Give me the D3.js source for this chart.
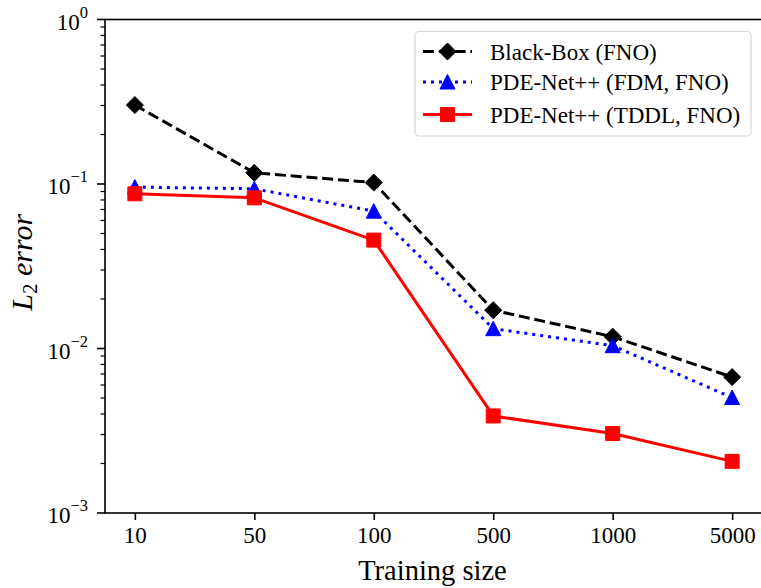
<!DOCTYPE html>
<html>
<head>
<meta charset="utf-8">
<script src="https://cdn.jsdelivr.net/npm/d3@7"></script>
<style>
  html, body { margin: 0; padding: 0; background: #fff; }
  text { font-family: "Liberation Serif", "Times New Roman", Tinos, "DejaVu Serif", serif; }
</style>
</head>
<body>
<svg id="chart" width="761" height="588"></svg>
<script>
// Training-set sizes (categorical x positions)
const trainingSizes = ["10", "50", "100", "500", "1000", "5000"];

// L2 error per training size
const blackBoxFNO = [0.302, 0.117, 0.102, 0.0171, 0.0118, 0.0067];
const pdeNetFDM   = [0.0958, 0.0935, 0.0684, 0.0132, 0.0104, 0.00503];
const pdeNetTDDL  = [0.0872, 0.0824, 0.0456, 0.00389, 0.00304, 0.00206];

const seriesNames = ["Black-Box (FNO)", "PDE-Net++ (FDM, FNO)", "PDE-Net++ (TDDL, FNO)"];

// Major decades on the log axis
const yMajorTicks = [1e-3, 1e-2, 1e-1, 1e0];
const yMajorExponents = ["−3", "−2", "−1", "0"];

const svg = d3.select("#chart");
const plotLeft = 105, plotRight = 762, plotTop = 19.5, plotBottom = 513;

const x = d3.scalePoint().domain(trainingSizes).range([plotLeft, plotRight]).padding(0.25);
const y = d3.scaleLog().domain([1e-3, 1]).range([plotBottom, plotTop]);

const series = [
  { name: seriesNames[0], values: blackBoxFNO, color: "#000000", dash: "11,4.8", marker: "diamond" },
  { name: seriesNames[1], values: pdeNetFDM,   color: "#0000ff", dash: "3,5",    marker: "triangle" },
  { name: seriesNames[2], values: pdeNetTDDL,  color: "#ff0000", dash: null,     marker: "square" }
];

// Marker shapes, centred on (0,0)
function markerPath(kind) {
  if (kind === "diamond") return "M0,-8.5L8.5,0L0,8.5L-8.5,0Z";
  if (kind === "triangle") return "M0,-7.5L7.5,7L-7.5,7Z";
  return "M-7,-7L7,-7L7,7L-7,7Z";
}

// Lines
const line = d3.line().x((d, i) => x(trainingSizes[i])).y(d => y(d));
series.forEach(s => {
  svg.append("path")
    .attr("d", line(s.values))
    .attr("fill", "none")
    .attr("stroke", s.color)
    .attr("stroke-width", 3)
    .attr("stroke-dasharray", s.dash)
    .attr("stroke-linejoin", "round");
});
// Markers on top
series.forEach(s => {
  svg.append("g").selectAll("path")
    .data(s.values)
    .join("path")
    .attr("transform", (d, i) => `translate(${x(trainingSizes[i])},${y(d)})`)
    .attr("d", markerPath(s.marker))
    .attr("fill", s.color)
    .attr("stroke", s.color)
    .attr("stroke-width", 1);
});

// Frame
svg.append("rect")
  .attr("x", plotLeft).attr("y", plotTop)
  .attr("width", plotRight - plotLeft).attr("height", plotBottom - plotTop)
  .attr("fill", "none").attr("stroke", "#000").attr("stroke-width", 1.6);

// X axis
const xAxis = d3.axisBottom(x).tickSize(7).tickPadding(7);
const gx = svg.append("g").attr("transform", `translate(0,${plotBottom})`).call(xAxis)
  .attr("font-size", 23);
gx.select(".domain").remove();
gx.selectAll(".tick line").attr("stroke", "#000").attr("stroke-width", 1.6);
gx.selectAll(".tick text").attr("fill", "#000");

// Y axis minor ticks
const minorTicks = [];
for (let e = -3; e < 0; e++) for (let m = 2; m <= 9; m++) minorTicks.push(m * Math.pow(10, e));
svg.append("g").selectAll("line")
  .data(minorTicks).join("line")
  .attr("x1", plotLeft - 4.5).attr("x2", plotLeft)
  .attr("y1", d => y(d)).attr("y2", d => y(d))
  .attr("stroke", "#000").attr("stroke-width", 1.2);

// Y axis major ticks
svg.append("g").selectAll("line")
  .data(yMajorTicks).join("line")
  .attr("x1", plotLeft - 8).attr("x2", plotLeft)
  .attr("y1", d => y(d)).attr("y2", d => y(d))
  .attr("stroke", "#000").attr("stroke-width", 1.6);

// Y tick labels as 10^n
const yl = svg.append("g").selectAll("text")
  .data(yMajorTicks).join("text")
  .attr("x", plotLeft - 17)
  .attr("y", d => y(d) + 10)
  .attr("text-anchor", "end")
  .attr("fill", "#000")
  .attr("font-size", 23);
yl.append("tspan").text("10");
yl.append("tspan")
  .attr("dy", -12)
  .attr("font-size", 16.5)
  .text((d, i) => yMajorExponents[i]);

// Axis titles
svg.append("text")
  .attr("x", (plotLeft + plotRight) / 2 - 1)
  .attr("y", 580)
  .attr("text-anchor", "middle")
  .attr("font-size", 28.5)
  .attr("fill", "#000")
  .text("Training size");

const ylab = svg.append("text")
  .attr("transform", `translate(32,${(plotTop + plotBottom) / 2 - 4}) rotate(-90)`)
  .attr("text-anchor", "middle")
  .attr("font-size", 30)
  .attr("font-style", "italic")
  .attr("fill", "#000");
ylab.append("tspan").text("L");
ylab.append("tspan").attr("dy", 5).attr("font-size", 21).attr("font-style", "normal").text("2");
ylab.append("tspan").attr("dy", -5).text(" error");

// Legend
const lg = svg.append("g");
lg.append("rect")
  .attr("x", 415).attr("y", 31.5)
  .attr("width", 336).attr("height", 104.5)
  .attr("rx", 4).attr("ry", 4)
  .attr("fill", "#fff").attr("fill-opacity", 0.8)
  .attr("stroke", "#d6d6d6").attr("stroke-width", 1.2);
const rowY = [51.5, 82, 114.5];
series.forEach((s, i) => {
  const cy = rowY[i];
  lg.append("line")
    .attr("x1", 423).attr("x2", 472)
    .attr("y1", cy).attr("y2", cy)
    .attr("stroke", s.color).attr("stroke-width", 3)
    .attr("stroke-dasharray", s.dash);
  lg.append("path")
    .attr("transform", `translate(447.5,${cy})`)
    .attr("d", markerPath(s.marker))
    .attr("fill", s.color).attr("stroke", s.color).attr("stroke-width", 1);
  lg.append("text")
    .attr("x", 490).attr("y", cy + 8)
    .attr("fill", "#000")
    .attr("font-size", 23)
    .text(s.name);
});
</script>
</body>
</html>
